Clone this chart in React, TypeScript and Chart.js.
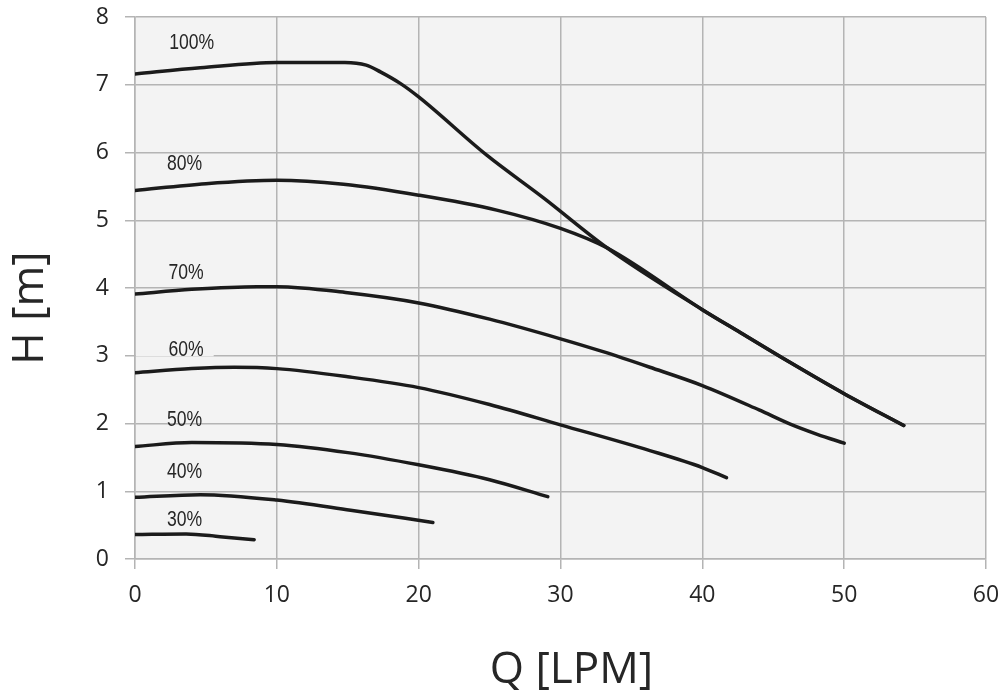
import React, { useEffect, useRef } from 'react';
import { Chart, registerables } from 'chart.js';

Chart.register(...registerables);

// ---- data (Q in LPM, H in m) ----
const q100 = [0, 4.6, 10, 14.8, 16.3, 17.3, 18.7, 20, 24.8, 28.8, 33.3, 40, 42.7, 46.2, 50, 54.2];
const h100 = [7.16, 7.25, 7.33, 7.33, 7.29, 7.19, 7.02, 6.82, 5.96, 5.33, 4.59, 3.68, 3.34, 2.9, 2.44, 1.97];

const q80 = [0, 5, 10, 14.7, 20, 25.5, 30, 33.3, 40, 42.7, 46.2, 50, 54.2];
const h80 = [5.44, 5.54, 5.59, 5.53, 5.37, 5.15, 4.88, 4.59, 3.68, 3.34, 2.9, 2.44, 1.97];

const q70 = [0, 4, 8.6, 10, 15, 20, 25, 30, 33, 36.3, 40, 44, 46.2, 48.1, 50];
const h70 = [3.91, 3.98, 4.02, 4.02, 3.93, 3.78, 3.54, 3.25, 3.06, 2.83, 2.56, 2.2, 1.99, 1.84, 1.71];

const q60 = [0, 4, 7, 10, 15, 20, 25, 30, 36.3, 40, 41.7];
const h60 = [2.75, 2.81, 2.83, 2.81, 2.69, 2.53, 2.28, 1.98, 1.6, 1.35, 1.2];

const q50 = [0, 4, 10, 15, 20, 25, 29.1];
const h50 = [1.66, 1.72, 1.69, 1.57, 1.39, 1.17, 0.92];

const q40 = [0, 4.6, 10, 15.2, 21];
const h40 = [0.91, 0.95, 0.87, 0.72, 0.54];

const q30 = [0, 3.6, 6, 8.4];
const h30 = [0.36, 0.37, 0.33, 0.285];

const curveLabels = ['100%', '80%', '70%', '60%', '50%', '40%', '30%'];
const labelQ = [4.0, 3.5, 3.6, 3.6, 3.5, 3.5, 3.5];
const labelH = [7.62, 5.83, 4.22, 3.08, 2.05, 1.29, 0.58];

const xTicks = [0, 10, 20, 30, 40, 50, 60];
const yTicks = [0, 1, 2, 3, 4, 5, 6, 7, 8];

const xTitle = 'Q [LPM]';
const yTitle = 'H [m]';

const series: [number[], number[]][] = [
  [q100, h100],
  [q80, h80],
  [q70, h70],
  [q60, h60],
  [q50, h50],
  [q40, h40],
  [q30, h30],
];

const GRID = '#b4b4b4';
const PLOT_BG = '#f3f3f3';
const LINE = '#1b1b1b';
const TEXT = '#262626';

const bgPlugin = {
  id: 'plotBg',
  beforeDraw(chart: any) {
    const { ctx, chartArea } = chart;
    ctx.save();
    ctx.fillStyle = PLOT_BG;
    ctx.fillRect(chartArea.left, chartArea.top, chartArea.right - chartArea.left, chartArea.bottom - chartArea.top);
    ctx.restore();
  },
};

const SX = 0.8;

const labelPlugin = {
  id: 'curveLabels',
  afterDatasetsDraw(chart: any) {
    const { ctx, scales, chartArea } = chart;
    ctx.save();
    ctx.font = '22px "Liberation Sans", Arial, sans-serif';
    ctx.textAlign = 'center';
    ctx.textBaseline = 'middle';
    curveLabels.forEach((t, i) => {
      const x = scales.x.getPixelForValue(labelQ[i]);
      const y = scales.y.getPixelForValue(labelH[i]);
      const w = ctx.measureText(t).width * SX;
      if (t === '60%') {
        ctx.fillStyle = PLOT_BG;
        ctx.fillRect(chartArea.left + 1, y - 12, x + w / 2 + 10 - chartArea.left - 1, 18);
      }
      ctx.save();
      ctx.translate(x, y);
      ctx.scale(SX, 1);
      ctx.fillStyle = TEXT;
      ctx.fillText(t, 0, 0);
      ctx.restore();
    });
    ctx.restore();
  },
  afterDraw(chart: any) {
    const { ctx, chartArea } = chart;
    ctx.save();
    ctx.fillStyle = TEXT;
    ctx.font = '44px "Open Sans", sans-serif';
    ctx.textAlign = 'center';
    ctx.textBaseline = 'alphabetic';
    ctx.fillText(xTitle, (chartArea.left + chartArea.right) / 2 + 11, 683);
    ctx.translate(43, (chartArea.top + chartArea.bottom) / 2 + 20);
    ctx.rotate(-Math.PI / 2);
    ctx.fillText(yTitle, 0, 0);
    ctx.restore();
  },
};

export default function App() {
  const ref = useRef<HTMLCanvasElement | null>(null);

  useEffect(() => {
    if (!ref.current) return;
    const datasets = series.map(([qs, hs], i) => ({
      label: curveLabels[i],
      data: qs.map((q, j) => ({ x: q, y: hs[j] })),
      borderColor: LINE,
      borderWidth: 3.5,
      pointRadius: 0,
      fill: false,
      cubicInterpolationMode: 'monotone' as const,
      borderCapStyle: 'round' as const,
      borderJoinStyle: 'round' as const,
    }));

    const chart = new Chart(ref.current, {
      type: 'line',
      data: { datasets },
      plugins: [bgPlugin, labelPlugin],
      options: {
        animation: false,
        responsive: false,
        devicePixelRatio: window.devicePixelRatio || 1,
        layout: { padding: { top: 17, right: 18, left: 0, bottom: 0 } },
        plugins: {
          legend: { display: false },
          tooltip: { enabled: false },
          title: { display: false },
        },
        scales: {
          x: {
            type: 'linear',
            min: xTicks[0],
            max: xTicks[xTicks.length - 1],
            afterBuildTicks: (s: any) => {
              s.ticks = xTicks.map((v) => ({ value: v }));
            },
            afterFit: (s: any) => {
              s.height = 135;
              s.paddingLeft = 0;
              s.paddingRight = 0;
            },
            grid: { color: GRID, lineWidth: 1.5, tickLength: 10, drawTicks: true },
            border: { color: GRID, width: 1.5 },
            ticks: {
              color: TEXT,
              font: { family: '"Open Sans", sans-serif', size: 23 },
              padding: 13,
              maxRotation: 0,
            },
          },
          y: {
            type: 'linear',
            min: yTicks[0],
            max: yTicks[yTicks.length - 1],
            afterBuildTicks: (s: any) => {
              s.ticks = yTicks.map((v) => ({ value: v }));
            },
            afterFit: (s: any) => {
              s.width = 135;
              s.paddingTop = 0;
              s.paddingBottom = 0;
            },
            grid: { color: GRID, lineWidth: 1.5, tickLength: 10, drawTicks: true },
            border: { color: GRID, width: 1.5 },
            ticks: {
              color: TEXT,
              font: { family: '"Open Sans", sans-serif', size: 23 },
              padding: 16,
            },
          },
        },
      },
    });
    return () => chart.destroy();
  }, []);

  return (
    <div style={{ position: 'absolute', left: 0, top: 0, width: 1004, height: 694, background: '#fff' }}>
      <canvas ref={ref} width={1004} height={694} style={{ width: 1004, height: 694, display: 'block' }} />
    </div>
  );
}
